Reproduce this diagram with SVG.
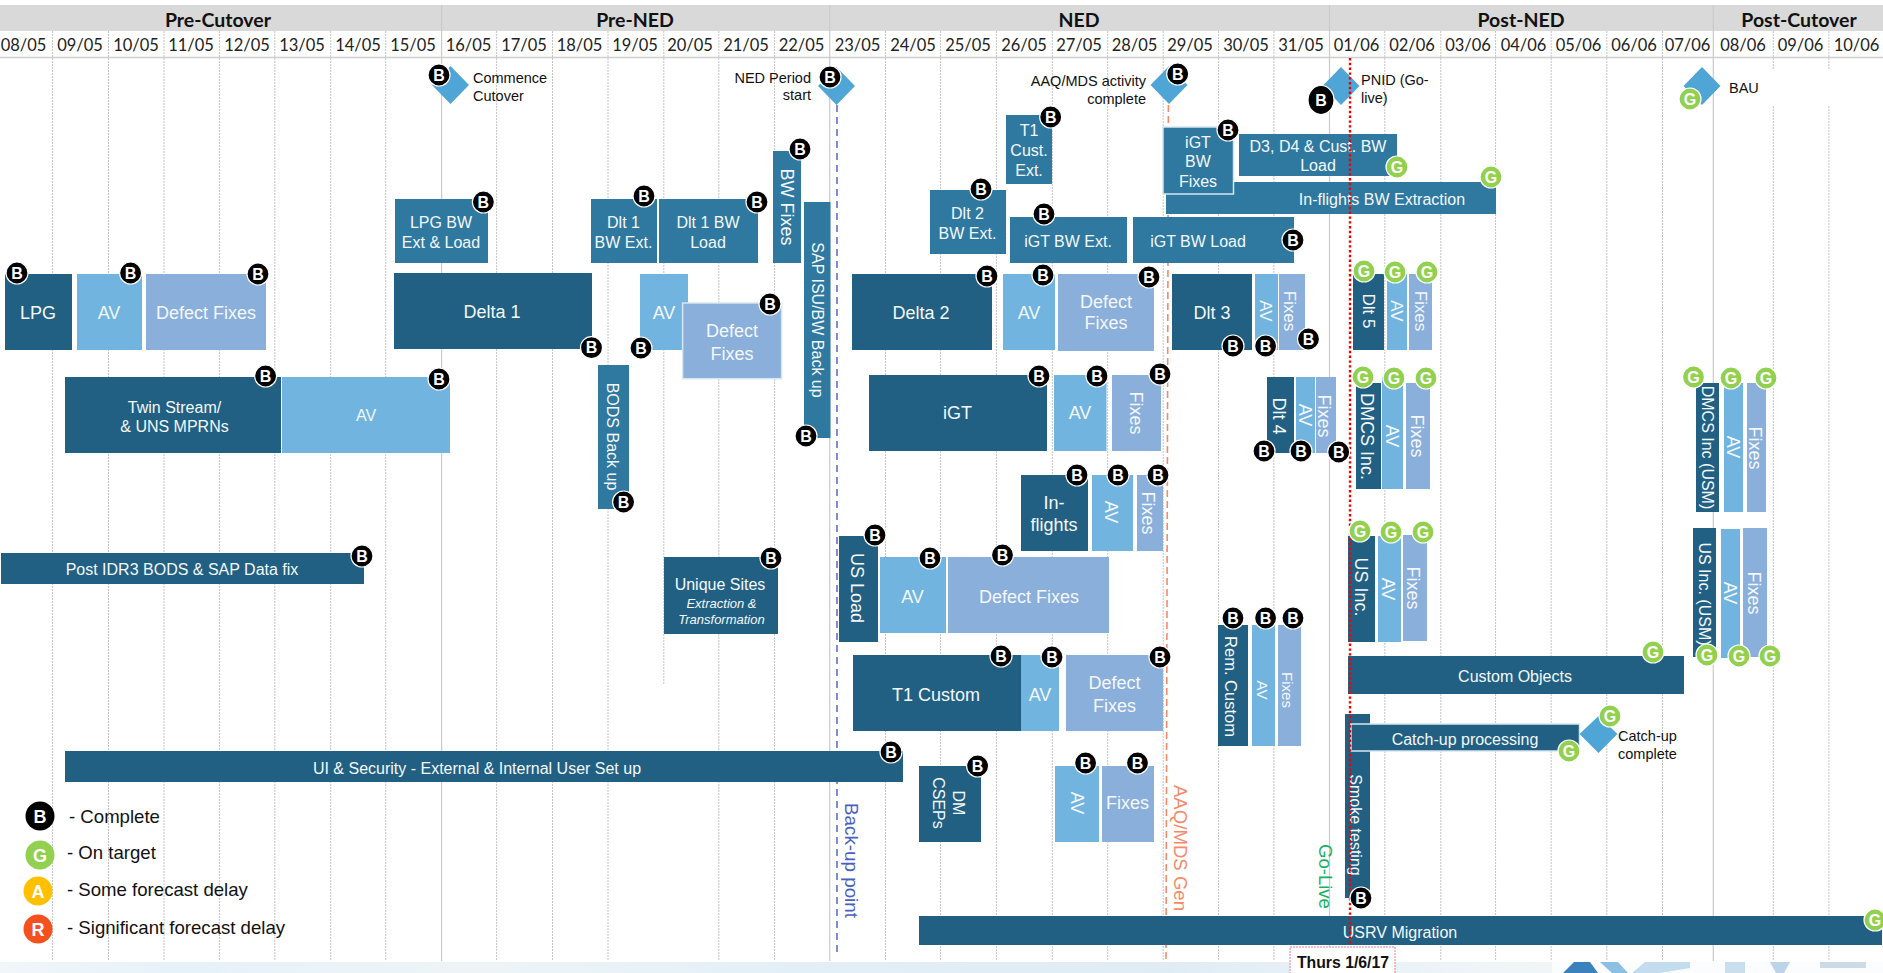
<svg xmlns="http://www.w3.org/2000/svg" width="1883" height="973" viewBox="0 0 1883 973">
<defs>
<linearGradient id="band" x1="0" x2="1" y1="0" y2="0">
<stop offset="0" stop-color="#f1f6f9"/><stop offset="0.1" stop-color="#e6f1f8"/><stop offset="0.25" stop-color="#eef4f6"/><stop offset="0.42" stop-color="#e3eff6"/><stop offset="0.62" stop-color="#e0ecf4"/><stop offset="0.8" stop-color="#f0f5f8"/><stop offset="1" stop-color="#f5f8fa"/>
</linearGradient>
</defs>
<style>
text{font-family:"Liberation Sans",Arial,sans-serif;dominant-baseline:central}
.c{text-anchor:middle}
.w{fill:#f4f8fb}
.s14{font-size:15px}
.s16{font-size:16px}
.s17{font-size:17px}
.s18{font-size:18px}
.d{fill:#216083}
.m{fill:#2f78a0}
.a{fill:#71b4df}
.f{fill:#8aafdb}
.dm{fill:#4fa5d5}
.e{stroke:#d8e6f0;stroke-width:1.5}
.hd{font-family:Lato,"Open Sans",sans-serif;font-weight:700;font-size:19.5px;fill:#111;text-anchor:middle}
.dt{font-family:Lato,"Open Sans",sans-serif;font-size:16.5px;fill:#222;text-anchor:middle}
.g{stroke:#c4c4c4;stroke-width:1;stroke-dasharray:2 1;fill:none}
.p{stroke:#cacaca;stroke-width:1.2;fill:none}
.ms{font-size:14.5px;fill:#111}
.lg{font-size:18.6px;fill:#111}
.bc{fill:#000;stroke:#fff;stroke-width:1.2}
.gc{fill:#92d050;stroke:#fff;stroke-width:1.2}
.bt{font-size:16px;font-weight:700;fill:#fff;text-anchor:middle}
</style>
<rect width="1883" height="973" fill="#fff"/>
<g id="bottom-band">
<rect x="0" y="962" width="1883" height="11" fill="url(#band)"/>
<rect x="1552" y="962" width="331" height="11" fill="#fbfcfd"/>
<polygon points="1563,973 1574,962 1590,962 1598,973" fill="#3a82bd"/>
<polygon points="1600,962 1618,962 1628,973 1612,973" fill="#8cc0e2"/>
<polygon points="1632,973 1645,962 1690,962 1690,968 1660,973" fill="#c3dcee"/>
<rect x="1725" y="962" width="20" height="11" fill="#c9dfee"/>
<polygon points="1770,962 1790,962 1784,973 1776,973" fill="#bdd4e8"/>
<rect x="1820" y="962" width="46" height="6" fill="#ccdbe6"/>
</g>
<g id="header">
<rect x="0" y="5" width="1883" height="26" fill="#d9d9d9"/>
<text class="hd" x="218" y="19.5">Pre-Cutover</text>
<text class="hd" x="635" y="19.5">Pre-NED</text>
<text class="hd" x="1079" y="19.5">NED</text>
<text class="hd" x="1521" y="19.5">Post-NED</text>
<text class="hd" x="1799" y="19.5">Post-Cutover</text>
<text class="dt" x="23.5" y="45">08/05</text><text class="dt" x="80" y="45">09/05</text><text class="dt" x="136" y="45">10/05</text><text class="dt" x="191" y="45">11/05</text><text class="dt" x="247" y="45">12/05</text><text class="dt" x="302" y="45">13/05</text><text class="dt" x="358" y="45">14/05</text><text class="dt" x="413" y="45">15/05</text><text class="dt" x="468.5" y="45">16/05</text><text class="dt" x="524" y="45">17/05</text><text class="dt" x="579.5" y="45">18/05</text><text class="dt" x="635" y="45">19/05</text><text class="dt" x="690" y="45">20/05</text><text class="dt" x="746" y="45">21/05</text><text class="dt" x="801.5" y="45">22/05</text><text class="dt" x="857.5" y="45">23/05</text><text class="dt" x="913" y="45">24/05</text><text class="dt" x="968" y="45">25/05</text><text class="dt" x="1024" y="45">26/05</text><text class="dt" x="1079" y="45">27/05</text><text class="dt" x="1134.5" y="45">28/05</text><text class="dt" x="1190" y="45">29/05</text><text class="dt" x="1246" y="45">30/05</text><text class="dt" x="1301" y="45">31/05</text><text class="dt" x="1356.5" y="45">01/06</text><text class="dt" x="1412" y="45">02/06</text><text class="dt" x="1468" y="45">03/06</text><text class="dt" x="1523.5" y="45">04/06</text><text class="dt" x="1578.5" y="45">05/06</text><text class="dt" x="1634" y="45">06/06</text><text class="dt" x="1687.5" y="45">07/06</text><text class="dt" x="1743" y="45">08/06</text><text class="dt" x="1800.5" y="45">09/06</text><text class="dt" x="1856.5" y="45">10/06</text>
<line x1="0" y1="57.5" x2="1883" y2="57.5" stroke="#cfcfcf" stroke-width="1.5"/>
</g>
<g id="grid">
<path class="g" d="M52.6 31V961M108.5 31V961M164 31V961M219.4 31V961M274.8 31V961M330.7 31V961M385.7 31V961M496.6 31V961M552.5 31V961M608 31V961M663.8 31V685M718.8 31V961M774.6 31V961M885.5 31V961M940.6 31V961M996.4 31V961M1052.3 31V961M1107.7 31V961M1163.2 31V961M1218.6 31V961M1273.9 31V961M1384.8 31V961M1440.8 31V961M1495.6 31V961M1551.2 31V961M1606.8 31V961M1662.5 31V961M1773.3 31V961M1828.9 31V961"/>
<path class="p" d="M441.6 5V961M829.7 5V961M1329.5 5V961M1713.3 5V961"/>
<rect x="1714.5" y="70" width="168.5" height="35" fill="#fff"/>
</g>
<g id="connectors">
<line x1="837" y1="105" x2="837" y2="957" stroke="#4a5fc1" stroke-width="1.4" stroke-dasharray="7 5"/>
<line x1="1168.4" y1="105" x2="1166" y2="960" stroke="#f58a6a" stroke-width="1.6" stroke-dasharray="7 4"/>
</g>
<g id="marker-labels">
<text class="c" transform="rotate(90 851 860.5)" x="851" y="860.5" font-size="18.8" fill="#4a5fc1">Back-up point</text>
<text class="c" transform="rotate(90 1180 848)" x="1180" y="848" font-size="18.6" fill="#f58a6a">AAQ/MDS Gen</text>
<text class="c" transform="rotate(90 1325.5 876.5)" x="1325.5" y="876.5" font-size="18.5" fill="#18b15f">Go-Live</text>
</g>
<g id="tasks">
<g id="lpg"><rect class="d" x="5" y="274" width="67" height="76"/><text class="c w s18" x="38" y="313">LPG</text></g>
<g id="lpg-av"><rect class="a" x="77" y="274" width="65" height="76"/><text class="c w s18" x="109" y="313">AV</text></g>
<g id="lpg-fixes"><rect class="f" x="146" y="274" width="120" height="76"/><text class="c w s18" x="206" y="313">Defect Fixes</text></g>
<g id="delta1"><rect class="d" x="394" y="273" width="198" height="76"/><text class="c w s18" x="492" y="312">Delta 1</text></g>
<g id="lpg-bw"><rect class="m" x="395" y="199" width="93" height="64"/><text class="c w s16" x="441" y="222">LPG BW</text><text class="c w s16" x="441" y="242">Ext &amp; Load</text></g>
<g id="dlt1-ext"><rect class="m" x="591" y="199" width="66" height="64"/><text class="c w s16" x="623.5" y="222">Dlt 1</text><text class="c w s16" x="623.5" y="242">BW Ext.</text></g>
<g id="dlt1-load"><rect class="m" x="659" y="199" width="99" height="64"/><text class="c w s16" x="708" y="222">Dlt 1 BW</text><text class="c w s16" x="708" y="242">Load</text></g>
<g id="bw-fixes"><rect class="m" x="773" y="151" width="28" height="112"/><text class="c w s18" transform="rotate(90 787 207)" x="787" y="207">BW Fixes</text></g>
<g id="sap-backup"><rect class="m" x="804" y="202" width="26.5" height="236"/><text class="c w s16" transform="rotate(90 817 320)" x="817" y="320">SAP ISU/BW Back up</text></g>
<g id="d1-av"><rect class="a" x="640" y="274" width="48" height="76"/><text class="c w s18" x="664" y="313">AV</text></g>
<g id="d1-fixes"><rect class="f e" x="682.6" y="303" width="99" height="75.7"/><text class="c w s18" x="732" y="331">Defect</text><text class="c w s18" x="732" y="354">Fixes</text></g>
<g id="delta2"><rect class="d" x="852" y="274" width="140" height="76"/><text class="c w s18" x="921" y="313">Delta 2</text></g>
<g id="d2-av"><rect class="a" x="1003" y="274" width="52" height="76"/><text class="c w s18" x="1029" y="313">AV</text></g>
<g id="d2-fixes"><rect class="f" x="1058" y="274" width="96" height="77"/><text class="c w s18" x="1106" y="302">Defect</text><text class="c w s18" x="1106" y="323">Fixes</text></g>
<g id="dlt3"><rect class="d" x="1172" y="274" width="80" height="76"/><text class="c w s18" x="1212" y="313">Dlt 3</text></g>
<g id="dlt3-av"><rect class="a" x="1255" y="274" width="23" height="76"/><text class="c w s17" transform="rotate(90 1265 311)" x="1265" y="311">AV</text></g>
<g id="dlt3-fixes"><rect class="f" x="1279" y="274" width="26" height="76"/><text class="c w s17" transform="rotate(90 1289 311)" x="1289" y="311">Fixes</text></g>
<g id="t1-ext"><rect class="m" x="1006" y="115" width="46" height="69"/><text class="c w s16" x="1029" y="130">T1</text><text class="c w s16" x="1029" y="150">Cust.</text><text class="c w s16" x="1029" y="170">Ext.</text></g>
<g id="dlt2-ext"><rect class="m" x="930" y="190" width="76" height="64"/><text class="c w s16" x="967.5" y="213">Dlt 2</text><text class="c w s16" x="967.5" y="233">BW Ext.</text></g>
<g id="igt-ext"><rect class="m" x="1010" y="217" width="117" height="46"/><text class="c w s16" x="1068" y="241">iGT BW Ext.</text></g>
<g id="igt-load"><rect class="m" x="1133" y="217" width="161" height="46"/><text class="c w s16" x="1198" y="241">iGT BW Load</text></g>
<g id="inflights-ext"><rect class="m" x="1166" y="182" width="330" height="32"/><text class="c w s16" x="1382" y="199">In-flights BW Extraction</text></g>
<g id="igt-fixes"><rect class="m e" x="1163" y="127" width="70.5" height="67"/><text class="c w s16" x="1198" y="142">iGT</text><text class="c w s16" x="1198" y="161">BW</text><text class="c w s16" x="1198" y="181">Fixes</text></g>
<g id="d3d4-load"><rect class="m" x="1239" y="134" width="158" height="42"/><text class="c w s16" x="1318" y="146">D3, D4 &amp; Cust. BW</text><text class="c w s16" x="1318" y="165">Load</text></g>
<g id="dlt5"><rect class="d" x="1353" y="274" width="31" height="76"/><text class="c w s17" transform="rotate(90 1368 311)" x="1368" y="311">Dlt 5</text></g>
<g id="dlt5-av"><rect class="a" x="1387" y="274" width="20" height="76"/><text class="c w s17" transform="rotate(90 1396 311)" x="1396" y="311">AV</text></g>
<g id="dlt5-fixes"><rect class="f" x="1409" y="274" width="23" height="76"/><text class="c w s17" transform="rotate(90 1420 311)" x="1420" y="311">Fixes</text></g>
<g id="twin"><rect class="d" x="65" y="377" width="216" height="76"/><text class="c w s16" x="174.5" y="407">Twin Stream/</text><text class="c w s16" x="174.5" y="426">&amp; UNS MPRNs</text></g>
<g id="twin-av"><rect class="a" x="282" y="377" width="168" height="76"/><text class="c w s16" x="366" y="415">AV</text></g>
<g id="bods"><rect class="m" x="598" y="365" width="31" height="144"/><text class="c w s16" transform="rotate(90 612 436.5)" x="612" y="436.5">BODS Back up</text></g>
<g id="post-idr3"><rect class="d" x="1" y="553" width="363" height="31"/><text class="c w s16" x="182" y="569">Post IDR3 BODS &amp; SAP Data fix</text></g>
<g id="igt"><rect class="d" x="869" y="375" width="178" height="76"/><text class="c w s18" x="957.5" y="413">iGT</text></g>
<g id="igt-av"><rect class="a" x="1054" y="375" width="52.5" height="76"/><text class="c w s18" x="1080" y="413">AV</text></g>
<g id="igt-fx"><rect class="f" x="1112" y="375" width="49" height="76"/><text class="c w s18" transform="rotate(90 1135.5 413)" x="1135.5" y="413">Fixes</text></g>
<g id="inflights"><rect class="d" x="1021" y="475" width="67" height="76"/><text class="c w s18" x="1054" y="503">In-</text><text class="c w s18" x="1054" y="525">flights</text></g>
<g id="inflights-av"><rect class="a" x="1092" y="475" width="41" height="76"/><text class="c w s18" transform="rotate(90 1111 512)" x="1111" y="512">AV</text></g>
<g id="inflights-fixes"><rect class="f" x="1137" y="475" width="26" height="76"/><text class="c w s18" transform="rotate(90 1148 513)" x="1148" y="513">Fixes</text></g>
<g id="unique"><rect class="d" x="664" y="557" width="114" height="77"/><text class="c w s16" x="720" y="584">Unique Sites</text><text class="c w" x="721.5" y="603" font-size="13" font-style="italic">Extraction &amp;</text><text class="c w" x="721.5" y="619" font-size="13" font-style="italic">Transformation</text></g>
<g id="us-load"><rect class="d" x="839" y="536" width="39" height="106"/><text class="c w s18" transform="rotate(90 857 588)" x="857" y="588">US Load</text></g>
<g id="us-av"><rect class="a" x="880" y="557" width="66" height="76"/><text class="c w s18" x="912.5" y="597">AV</text></g>
<g id="us-fixes"><rect class="f" x="948" y="557" width="161" height="76"/><text class="c w s18" x="1029" y="597">Defect Fixes</text></g>
<g id="t1-custom"><rect class="d" x="853" y="655" width="168" height="76"/><text class="c w s18" x="936" y="695">T1 Custom</text></g>
<g id="t1-av"><rect class="a" x="1021" y="655" width="38" height="76"/><text class="c w s18" x="1040" y="695">AV</text></g>
<g id="t1-fixes"><rect class="f" x="1066" y="655" width="97" height="76"/><text class="c w s18" x="1114.5" y="683">Defect</text><text class="c w s18" x="1114.5" y="706">Fixes</text></g>
<g id="rem-custom"><rect class="d" x="1218" y="625" width="30" height="121"/><text class="c w" font-size="16.5" transform="rotate(90 1230.5 686.5)" x="1230.5" y="686.5">Rem. Custom</text></g>
<g id="rem-av"><rect class="a" x="1252" y="625" width="23" height="121"/><text class="c w s14" transform="rotate(90 1262 690)" x="1262" y="690">AV</text></g>
<g id="rem-fixes"><rect class="f" x="1278" y="625" width="23" height="121"/><text class="c w s14" transform="rotate(90 1287 690)" x="1287" y="690">Fixes</text></g>
<g id="dlt4"><rect class="d" x="1267" y="377" width="27" height="76"/><text class="c w s18" transform="rotate(90 1279 416)" x="1279" y="416">Dlt 4</text></g>
<g id="dlt4-av"><rect class="a" x="1296" y="377" width="19" height="76"/><text class="c w s18" transform="rotate(90 1305 415)" x="1305" y="415">AV</text></g>
<g id="dlt4-fixes"><rect class="f" x="1316" y="377" width="20" height="76"/><text class="c w s18" transform="rotate(90 1324 416)" x="1324" y="416">Fixes</text></g>
<g id="dmcs"><rect class="d" x="1356" y="383" width="25" height="106"/><text class="c w s18" transform="rotate(90 1366.5 436.5)" x="1366.5" y="436.5">DMCS Inc.</text></g>
<g id="dmcs-av"><rect class="a" x="1382" y="377" width="21" height="112"/><text class="c w s18" transform="rotate(90 1392 436)" x="1392" y="436">AV</text></g>
<g id="dmcs-fixes"><rect class="f" x="1406" y="383" width="24" height="106"/><text class="c w s18" transform="rotate(90 1417 436)" x="1417" y="436">Fixes</text></g>
<g id="us-inc"><rect class="d" x="1348" y="536" width="27" height="106"/><text class="c w s18" transform="rotate(90 1360.5 587)" x="1360.5" y="587">US Inc.</text></g>
<g id="us-inc-av"><rect class="a" x="1378" y="536" width="23" height="106"/><text class="c w s18" transform="rotate(90 1388 589)" x="1388" y="589">AV</text></g>
<g id="us-inc-fixes"><rect class="f" x="1403" y="535" width="24" height="106"/><text class="c w s18" transform="rotate(90 1413 588)" x="1413" y="588">Fixes</text></g>
<g id="dmcs-usm"><rect class="d" x="1696" y="383" width="23" height="129"/><text class="c w s16" transform="rotate(90 1707 447.5)" x="1707" y="447.5">DMCS Inc (USM)</text></g>
<g id="dmcs-usm-av"><rect class="a" x="1724" y="383" width="19" height="129"/><text class="c w s18" transform="rotate(90 1733 447)" x="1733" y="447">AV</text></g>
<g id="dmcs-usm-fixes"><rect class="f" x="1747" y="383" width="19" height="129"/><text class="c w s18" transform="rotate(90 1755 448)" x="1755" y="448">Fixes</text></g>
<g id="us-usm"><rect class="d" x="1693" y="528" width="23" height="129"/><text class="c w s16" transform="rotate(90 1704 594)" x="1704" y="594">US Inc. (USM)</text></g>
<g id="us-usm-av"><rect class="a" x="1721" y="529" width="19" height="129"/><text class="c w s18" transform="rotate(90 1730 593)" x="1730" y="593">AV</text></g>
<g id="us-usm-fixes"><rect class="f" x="1743" y="528" width="24" height="129"/><text class="c w s18" transform="rotate(90 1754 593)" x="1754" y="593">Fixes</text></g>
<g id="custom-objects"><rect class="d" x="1348" y="656" width="336" height="38"/><text class="c w s16" x="1515" y="676">Custom Objects</text></g>
<g id="smoke"><rect class="d" x="1345" y="714" width="25" height="184"/><text class="c w s16" transform="rotate(90 1355 825)" x="1355" y="825">Smoke testing</text></g>
<g id="catchup"><rect class="d e" x="1351" y="724" width="228.5" height="27"/><text class="c w s16" x="1465" y="739">Catch-up processing</text></g>
<g id="ui-security"><rect class="d" x="65" y="751" width="838" height="31"/><text class="c w s16" x="477" y="768">UI &amp; Security - External &amp; Internal User Set up</text></g>
<g id="dm-cseps"><rect class="d" x="919" y="766" width="62" height="76"/><text class="c w s16" transform="rotate(90 958.5 803)" x="958.5" y="803">DM</text><text class="c w s16" transform="rotate(90 938.5 803)" x="938.5" y="803">CSEPs</text></g>
<g id="dm-av"><rect class="a" x="1055" y="766" width="44" height="76"/><text class="c w s18" transform="rotate(90 1077 803)" x="1077" y="803">AV</text></g>
<g id="dm-fixes"><rect class="f" x="1102" y="766" width="52" height="76"/><text class="c w s18" x="1127.5" y="803">Fixes</text></g>
<g id="usrv"><rect class="d" x="919" y="916" width="963" height="29"/><text class="c w s16" x="1400" y="932">USRV Migration</text></g>
</g>
<g id="milestones">
<g id="ms-commence"><polygon class="dm" points="450.5,66 469,85 450.5,104 432,85"/><text class="ms" x="473" y="78">Commence</text><text class="ms" x="473" y="96">Cutover</text></g>
<g id="ms-ned"><polygon class="dm" points="836.5,67 855,86 836.5,105 818,86"/><text class="ms" x="811" y="78" text-anchor="end">NED Period</text><text class="ms" x="811" y="95" text-anchor="end">start</text></g>
<g id="ms-aaq"><polygon class="dm" points="1169,66 1187.5,85 1169,104 1150.5,85"/><text class="ms" x="1146" y="81" text-anchor="end">AAQ/MDS activity</text><text class="ms" x="1146" y="99" text-anchor="end">complete</text></g>
<g id="ms-pnid"><polygon class="dm" points="1341,67 1359.5,86 1341,105 1322.5,86"/><text class="ms" x="1361" y="80">PNID (Go-</text><text class="ms" x="1361" y="98">live)</text></g>
<g id="ms-bau"><polygon class="dm" points="1702,67 1720.5,86 1702,105 1683.5,86"/><text class="ms" x="1729" y="88">BAU</text></g>
<g id="ms-catchup"><polygon class="dm" points="1598.5,716 1617.5,734 1598.5,753 1579.5,734"/><text class="ms" x="1618" y="736">Catch-up</text><text class="ms" x="1618" y="754">complete</text></g>
</g>
<g id="today-line">
<line x1="1350" y1="58" x2="1350" y2="946" stroke="#f00000" stroke-width="2.4" stroke-dasharray="2.4 2.4"/>
</g>
<g id="date-box">
<rect x="1290" y="947" width="105" height="30" fill="#fff" stroke="#f27a8a" stroke-width="1" stroke-dasharray="2 1"/>
<text class="c" x="1343" y="962.5" font-size="15.8" font-weight="700" fill="#111">Thurs 1/6/17</text>
</g>
<g id="badges">
<g id="b1"><circle class="bc" cx="17" cy="273" r="11"/><text class="bt" x="17" y="273">B</text></g>
<g id="b2"><circle class="bc" cx="130.6" cy="273" r="11"/><text class="bt" x="130.6" y="273">B</text></g>
<g id="b3"><circle class="bc" cx="258" cy="274" r="11"/><text class="bt" x="258" y="274">B</text></g>
<g id="b4"><circle class="bc" cx="483.4" cy="202" r="11"/><text class="bt" x="483.4" y="202">B</text></g>
<g id="b5"><circle class="bc" cx="591.5" cy="347.7" r="11"/><text class="bt" x="591.5" y="347.7">B</text></g>
<g id="b6"><circle class="bc" cx="265.6" cy="376" r="11"/><text class="bt" x="265.6" y="376">B</text></g>
<g id="b7"><circle class="bc" cx="439" cy="379" r="11"/><text class="bt" x="439" y="379">B</text></g>
<g id="b8"><circle class="bc" cx="623.6" cy="502" r="11"/><text class="bt" x="623.6" y="502">B</text></g>
<g id="b9"><circle class="bc" cx="362" cy="556" r="11"/><text class="bt" x="362" y="556">B</text></g>
<g id="b10"><circle class="bc" cx="644" cy="196" r="11"/><text class="bt" x="644" y="196">B</text></g>
<g id="b11"><circle class="bc" cx="757" cy="202" r="11"/><text class="bt" x="757" y="202">B</text></g>
<g id="b12"><circle class="bc" cx="800" cy="149" r="11"/><text class="bt" x="800" y="149">B</text></g>
<g id="b13"><circle class="bc" cx="830" cy="77" r="11"/><text class="bt" x="830" y="77">B</text></g>
<g id="b14"><circle class="bc" cx="1177.7" cy="74" r="11"/><text class="bt" x="1177.7" y="74">B</text></g>
<g id="b15"><circle class="bc" cx="1050.7" cy="117" r="11"/><text class="bt" x="1050.7" y="117">B</text></g>
<g id="b16"><circle class="bc" cx="1228" cy="130" r="11"/><text class="bt" x="1228" y="130">B</text></g>
<g id="b17"><circle class="bc" cx="981" cy="189" r="11"/><text class="bt" x="981" y="189">B</text></g>
<g id="b18"><circle class="bc" cx="1044" cy="214" r="11"/><text class="bt" x="1044" y="214">B</text></g>
<g id="b19"><circle class="bc" cx="770" cy="304" r="11"/><text class="bt" x="770" y="304">B</text></g>
<g id="b20"><circle class="bc" cx="987" cy="276" r="11"/><text class="bt" x="987" y="276">B</text></g>
<g id="b21"><circle class="bc" cx="1043" cy="275" r="11"/><text class="bt" x="1043" y="275">B</text></g>
<g id="b22"><circle class="bc" cx="1149" cy="277" r="11"/><text class="bt" x="1149" y="277">B</text></g>
<g id="b23"><circle class="bc" cx="641" cy="348" r="11"/><text class="bt" x="641" y="348">B</text></g>
<g id="b24"><circle class="bc" cx="806" cy="436" r="11"/><text class="bt" x="806" y="436">B</text></g>
<g id="b25"><circle class="bc" cx="1039" cy="376" r="11"/><text class="bt" x="1039" y="376">B</text></g>
<g id="b26"><circle class="bc" cx="1097" cy="376" r="11"/><text class="bt" x="1097" y="376">B</text></g>
<g id="b27"><circle class="bc" cx="1160" cy="374" r="11"/><text class="bt" x="1160" y="374">B</text></g>
<g id="b28"><circle class="bc" cx="1077" cy="475" r="11"/><text class="bt" x="1077" y="475">B</text></g>
<g id="b29"><circle class="bc" cx="1118" cy="475" r="11"/><text class="bt" x="1118" y="475">B</text></g>
<g id="b30"><circle class="bc" cx="1158" cy="475" r="11"/><text class="bt" x="1158" y="475">B</text></g>
<g id="b31"><circle class="bc" cx="875" cy="535" r="11"/><text class="bt" x="875" y="535">B</text></g>
<g id="b32"><circle class="bc" cx="930" cy="558" r="11"/><text class="bt" x="930" y="558">B</text></g>
<g id="b33"><circle class="bc" cx="1002.5" cy="555" r="11"/><text class="bt" x="1002.5" y="555">B</text></g>
<g id="b34"><circle class="bc" cx="771" cy="558" r="11"/><text class="bt" x="771" y="558">B</text></g>
<g id="b35"><circle class="bc" cx="1233" cy="346" r="11"/><text class="bt" x="1233" y="346">B</text></g>
<g id="b36"><circle class="bc" cx="1265.6" cy="346" r="11"/><text class="bt" x="1265.6" y="346">B</text></g>
<g id="b37"><circle class="bc" cx="1308.5" cy="339" r="11"/><text class="bt" x="1308.5" y="339">B</text></g>
<g id="b38"><circle class="bc" cx="1001" cy="656" r="11"/><text class="bt" x="1001" y="656">B</text></g>
<g id="b39"><circle class="bc" cx="1052" cy="657" r="11"/><text class="bt" x="1052" y="657">B</text></g>
<g id="b40"><circle class="bc" cx="1160" cy="657" r="11"/><text class="bt" x="1160" y="657">B</text></g>
<g id="b41"><circle class="bc" cx="1233" cy="618" r="11"/><text class="bt" x="1233" y="618">B</text></g>
<g id="b42"><circle class="bc" cx="1265.6" cy="618" r="11"/><text class="bt" x="1265.6" y="618">B</text></g>
<g id="b43"><circle class="bc" cx="1293" cy="618" r="11"/><text class="bt" x="1293" y="618">B</text></g>
<g id="b44"><circle class="bc" cx="1264" cy="451" r="11"/><text class="bt" x="1264" y="451">B</text></g>
<g id="b45"><circle class="bc" cx="1301" cy="451" r="11"/><text class="bt" x="1301" y="451">B</text></g>
<g id="b46"><circle class="bc" cx="1338.7" cy="452" r="11"/><text class="bt" x="1338.7" y="452">B</text></g>
<g id="b47"><circle class="bc" cx="891" cy="752" r="11"/><text class="bt" x="891" y="752">B</text></g>
<g id="b48"><circle class="bc" cx="977.6" cy="766" r="11"/><text class="bt" x="977.6" y="766">B</text></g>
<g id="b49"><circle class="bc" cx="1085.6" cy="763" r="11"/><text class="bt" x="1085.6" y="763">B</text></g>
<g id="b50"><circle class="bc" cx="1137.5" cy="763" r="11"/><text class="bt" x="1137.5" y="763">B</text></g>
<g id="b51"><circle class="bc" cx="1361" cy="898" r="11"/><text class="bt" x="1361" y="898">B</text></g>
<g id="b52"><circle class="bc" cx="1293" cy="240" r="11"/><text class="bt" x="1293" y="240">B</text></g>
<g id="b53"><circle class="bc" cx="439" cy="75" r="11"/><text class="bt" x="439" y="75">B</text></g>
<g id="b54"><ellipse class="bc" cx="1321" cy="100" rx="13" ry="14.5"/><text class="bt" x="1321" y="100">B</text></g>
<g id="g1"><circle class="gc" cx="1397" cy="167" r="11"/><text class="bt" x="1397" y="167">G</text></g>
<g id="g2"><circle class="gc" cx="1491" cy="177" r="11"/><text class="bt" x="1491" y="177">G</text></g>
<g id="g3"><circle class="gc" cx="1364" cy="271" r="11"/><text class="bt" x="1364" y="271">G</text></g>
<g id="g4"><circle class="gc" cx="1395" cy="272" r="11"/><text class="bt" x="1395" y="272">G</text></g>
<g id="g5"><circle class="gc" cx="1427" cy="272" r="11"/><text class="bt" x="1427" y="272">G</text></g>
<g id="g6"><circle class="gc" cx="1690" cy="99" r="11"/><text class="bt" x="1690" y="99">G</text></g>
<g id="g7"><circle class="gc" cx="1363" cy="377" r="11"/><text class="bt" x="1363" y="377">G</text></g>
<g id="g8"><circle class="gc" cx="1394" cy="378" r="11"/><text class="bt" x="1394" y="378">G</text></g>
<g id="g9"><circle class="gc" cx="1426" cy="378" r="11"/><text class="bt" x="1426" y="378">G</text></g>
<g id="g10"><circle class="gc" cx="1360" cy="531" r="11"/><text class="bt" x="1360" y="531">G</text></g>
<g id="g11"><circle class="gc" cx="1391" cy="532" r="11"/><text class="bt" x="1391" y="532">G</text></g>
<g id="g12"><circle class="gc" cx="1423" cy="532" r="11"/><text class="bt" x="1423" y="532">G</text></g>
<g id="g13"><circle class="gc" cx="1693.5" cy="377" r="11"/><text class="bt" x="1693.5" y="377">G</text></g>
<g id="g14"><circle class="gc" cx="1731" cy="378" r="11"/><text class="bt" x="1731" y="378">G</text></g>
<g id="g15"><circle class="gc" cx="1766" cy="378" r="11"/><text class="bt" x="1766" y="378">G</text></g>
<g id="g16"><circle class="gc" cx="1653" cy="652" r="11"/><text class="bt" x="1653" y="652">G</text></g>
<g id="g17"><circle class="gc" cx="1707" cy="655" r="11"/><text class="bt" x="1707" y="655">G</text></g>
<g id="g18"><circle class="gc" cx="1739" cy="656" r="11"/><text class="bt" x="1739" y="656">G</text></g>
<g id="g19"><circle class="gc" cx="1770" cy="656" r="11"/><text class="bt" x="1770" y="656">G</text></g>
<g id="g20"><circle class="gc" cx="1569" cy="751" r="11"/><text class="bt" x="1569" y="751">G</text></g>
<g id="g21"><circle class="gc" cx="1610" cy="716" r="11"/><text class="bt" x="1610" y="716">G</text></g>
<g id="g22"><circle class="gc" cx="1875" cy="920" r="11"/><text class="bt" x="1875" y="920">G</text></g>
</g>
<g id="legend">
<g id="lg-b"><circle cx="40" cy="816" r="14.5" fill="#000"/><text class="bt" x="40" y="817" style="font-size:18px">B</text><text class="lg" x="69" y="816">- Complete</text></g>
<g id="lg-g"><circle cx="40" cy="855" r="14.5" fill="#92d050"/><text class="bt" x="40" y="855.5" style="font-size:18px">G</text><text class="lg" x="67" y="852">- On target</text></g>
<g id="lg-a"><circle cx="38" cy="891" r="14.5" fill="#ffc000"/><text class="bt" x="38" y="892" style="font-size:18px">A</text><text class="lg" x="67" y="889">- Some forecast delay</text></g>
<g id="lg-r"><circle cx="38" cy="929" r="14.5" fill="#f4511e"/><text class="bt" x="38" y="930" style="font-size:18px">R</text><text class="lg" x="67" y="927">- Significant forecast delay</text></g>
</g>
</svg>
